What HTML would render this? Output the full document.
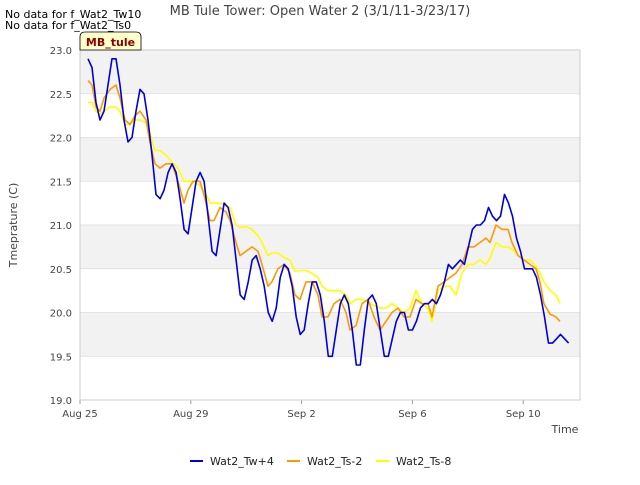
<!DOCTYPE html>
<html><head><meta charset="utf-8"><style>
body{margin:0;background:#fff;font-family:"Liberation Sans","DejaVu Sans",sans-serif}
svg text{font-family:"DejaVu Sans","Liberation Sans",sans-serif}
</style></head><body>
<svg id="c" width="640" height="480" xmlns="http://www.w3.org/2000/svg">
<rect width="640" height="480" fill="#fff"/>
<text x="320" y="15" text-anchor="middle" font-size="13" fill="#444">MB Tule Tower: Open Water 2 (3/1/11-3/23/17)</text>
<text x="5" y="18" font-size="11" fill="#000">No data for f_Wat2_Tw10</text>
<text x="5" y="29" font-size="11" fill="#000">No data for f_Wat2_Ts0</text>
<g id="plot"></g>
<g>
<path d="M80,50 L80,37 Q80,32 85,32 L136,32 Q141,32 141,37 L141,50 Z" fill="#ffffcc" stroke="#000" stroke-width="0.8"/>
<text x="110.5" y="46" text-anchor="middle" font-size="11" font-weight="bold" fill="#8b0000">MB_tule</text>
</g>
<text transform="translate(17,225) rotate(-90)" text-anchor="middle" font-size="11" fill="#444">Tmeprature (C)</text>
<text x="565" y="433" text-anchor="middle" font-size="11" fill="#444">Time</text>
<g id="legend"></g>
</svg>
<script>
const yTicks=[19.0,19.5,20.0,20.5,21.0,21.5,22.0,22.5,23.0];
const xTickLabels=["Aug 25","Aug 29","Sep 2","Sep 6","Sep 10"];
const xTickHours=[0,96,192,288,384];
const seriesNames=["Wat2_Tw+4","Wat2_Ts-2","Wat2_Ts-8"];
const seriesColors=["#0000dd","#ff9900","#ffff00"];
const blueStart=6.9, blueStep=3.47;
const blueVals=[22.9,22.8,22.4,22.2,22.3,22.6,22.9,22.9,22.6,22.2,21.95,22.0,22.3,22.55,22.5,22.2,21.8,21.35,21.3,21.4,21.6,21.7,21.6,21.3,20.95,20.9,21.2,21.5,21.6,21.5,21.1,20.7,20.65,20.95,21.25,21.2,21.0,20.6,20.2,20.15,20.35,20.6,20.65,20.5,20.3,20.0,19.9,20.05,20.4,20.55,20.5,20.3,19.95,19.75,19.8,20.1,20.35,20.35,20.2,19.9,19.5,19.5,19.8,20.1,20.2,20.1,19.8,19.4,19.4,19.8,20.15,20.2,20.1,19.8,19.5,19.5,19.7,19.9,20.0,20.0,19.8,19.8,19.9,20.05,20.1,20.1,20.15,20.1,20.2,20.35,20.55,20.5,20.55,20.6,20.55,20.75,20.95,21.0,21.0,21.05,21.2,21.1,21.05,21.1,21.35,21.25,21.1,20.85,20.7,20.5,20.5,20.5,20.4,20.2,19.95,19.65,19.65,19.7,19.75,19.7,19.65];
const tsHours=[6.9,10.4,13.9,17.3,20.8,26,31.2,34.7,39,43.3,47.7,52,57.2,60.6,65,69.3,74.5,79.7,84.9,90.1,93.6,97.9,104,108.3,112.6,116.1,121.3,126.5,130,135.2,138.6,143.8,149,154.2,157.7,162.9,166.3,171.5,176.7,181.9,186.3,190.6,195.8,201,206.2,209.7,214.9,220.1,225.3,230.5,233.9,239.1,244.3,249.5,254.7,259.9,265.1,270.3,275.5,280.7,285.9,291.1,296.3,301.5,305,310.2,315.4,320.6,325.8,331,336.2,341.4,346.6,351.8,355.2,360.4,365.6,370.8,374.3,379.5,384.7,389.9,395.1,398.5,401.9,407.2,412.4,415.9];
const orangeVals=[22.65,22.6,22.35,22.3,22.45,22.55,22.6,22.45,22.2,22.15,22.25,22.3,22.2,21.95,21.7,21.65,21.7,21.7,21.5,21.25,21.4,21.5,21.5,21.3,21.05,21.05,21.2,21.15,21.05,20.8,20.65,20.7,20.75,20.7,20.55,20.3,20.35,20.5,20.55,20.45,20.2,20.15,20.35,20.35,20.2,19.95,19.95,20.1,20.15,20.0,19.8,19.85,20.1,20.15,19.95,19.8,19.9,20.0,20.05,19.95,19.95,20.15,20.1,20.1,19.95,20.3,20.35,20.4,20.45,20.55,20.75,20.75,20.8,20.85,20.8,21.0,20.95,20.95,20.8,20.65,20.6,20.55,20.5,20.35,20.1,19.98,19.95,19.9];
const yellowVals=[22.4,22.4,22.3,22.27,22.3,22.35,22.35,22.3,22.15,22.15,22.2,22.2,22.17,22.05,21.85,21.85,21.8,21.72,21.65,21.5,21.5,21.5,21.45,21.38,21.25,21.25,21.25,21.22,21.2,21.0,20.97,20.98,20.95,20.88,20.8,20.65,20.68,20.68,20.63,20.6,20.47,20.48,20.48,20.45,20.4,20.3,20.25,20.25,20.25,20.2,20.1,20.15,20.15,20.12,20.08,20.05,20.05,20.1,20.05,20.0,20.05,20.25,20.1,20.05,19.9,20.25,20.3,20.3,20.2,20.45,20.55,20.55,20.6,20.55,20.62,20.8,20.75,20.75,20.72,20.66,20.6,20.6,20.53,20.45,20.35,20.25,20.2,20.1];

const L=80,R=580,T=50,B=400;
const xS=h=>L+h*(110.8/96);
const yS=v=>B-(v-19)*(B-T)/4;
const NS="http://www.w3.org/2000/svg";
const plot=document.getElementById('plot');
function mk(tag,attrs,parent){const e=document.createElementNS(NS,tag);for(const k in attrs)e.setAttribute(k,attrs[k]);parent.appendChild(e);return e;}
for(let i=0;i<yTicks.length-1;i++){
  const g=mk('rect',{x:L,y:yS(yTicks[i+1]),width:R-L,height:yS(yTicks[i])-yS(yTicks[i+1]),fill:(i%2===1)?'#f2f2f2':'#fff'},plot);
  
  
}
yTicks.forEach(v=>{
  const l=mk('line',{x1:L,x2:R,y1:yS(v),y2:yS(v),stroke:'#ddd','stroke-width':0.8},plot);
  
  
  const t=mk('text',{x:L-8,y:yS(v)+4,'text-anchor':'end','font-size':10,fill:'#444'},plot);
  t.textContent=v.toFixed(1);
  
  
});
xTickHours.forEach((h,i)=>{
  const l=mk('line',{x1:xS(h),x2:xS(h),y1:B,y2:B+4,stroke:'#999'},plot);
  
  
  const t=mk('text',{x:xS(h),y:B+17,'text-anchor':'middle','font-size':10,fill:'#444'},plot);
  t.textContent=xTickLabels[i];
  
  
});
const fr=mk('rect',{x:L,y:T,width:R-L,height:B-T,fill:'none',stroke:'#ccc'},plot);


function line(hours,vals,color,name){
  const d=vals.map((v,i)=>(i?'L':'M')+xS(hours[i]).toFixed(1)+','+yS(v).toFixed(1)).join('');
  const p=mk('path',{d:d,fill:'none',stroke:color,'stroke-width':1.6,'stroke-linejoin':'round'},plot);
  
  
}
const blueHours=blueVals.map((v,i)=>blueStart+i*blueStep);
line(tsHours,yellowVals,seriesColors[2],'series-wat2-ts-8');
line(tsHours,orangeVals,seriesColors[1],'series-wat2-ts-2');
line(blueHours,blueVals,seriesColors[0],'series-wat2-tw4');
const lg=document.getElementById('legend');
const lx=[190,287,376];
seriesNames.forEach((n,i)=>{
  const g=mk('g',{},lg);
  
  
  mk('line',{x1:lx[i],x2:lx[i]+13,y1:461,y2:461,stroke:seriesColors[i],'stroke-width':2},g);
  const t=mk('text',{x:lx[i]+20,y:465,'font-size':11,fill:'#222'},g);
  t.textContent=n;
});
</script>
</body></html>
